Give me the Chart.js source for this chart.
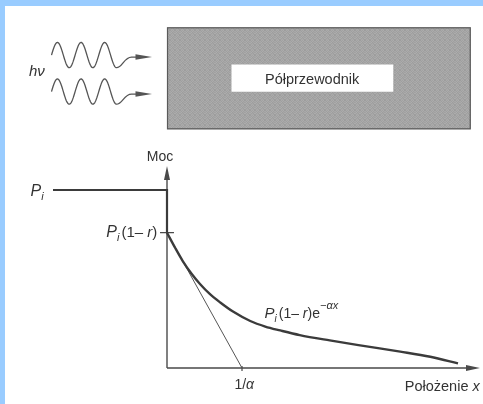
<!DOCTYPE html>
<html>
<head>
<meta charset="utf-8">
<script src="https://cdn.jsdelivr.net/npm/chart.js@4/dist/chart.umd.min.js"></script>
<style>
  html, body { margin: 0; padding: 0; background: #fff; }
  #wrap { position: relative; width: 483px; height: 404px; overflow: hidden; }
  #wrap canvas { position: absolute; left: 0; top: 0; }
  .frame { position: absolute; background: #99ccff; }
</style>
</head>
<body>
<div id="wrap">
  <canvas id="chart" width="483" height="404"></canvas>
  <div class="frame" style="left:0;top:0;width:483px;height:6px"></div>
  <div class="frame" style="left:0;top:0;width:5px;height:404px"></div>
</div>
<script>
// Depth into the semiconductor, in units of the absorption length 1/α
const depth = [0, 0.11, 0.21, 0.33, 0.44, 0.57, 0.71, 0.88, 1.11, 1.31, 1.51, 1.77, 2.17, 2.64, 3.11, 3.51, 3.88];
// Optical power inside the material, in units of the incident power P_i
const power = [0.76, 0.674, 0.601, 0.528, 0.472, 0.416, 0.368, 0.317, 0.264, 0.233, 0.211, 0.185, 0.155, 0.123, 0.092, 0.063, 0.026];

// Incident power outside the sample (x < 0) and the power just inside the surface
const incidentX = [-1.52, 0, 0];
const incidentP = [1.0, 1.0, 0.76];

// Tangent at the surface: crosses zero at x = 1/α
const tangentX = [0, 1];
const tangentP = [0.76, 0];

// Marked values on the axes
const yTickValues = [1.0, 0.76];
const xTickValues = [1];

const INK = '#3b3b3b';
const TEXT = '#333';
const SANS = '"Liberation Sans", Arial, Helvetica, sans-serif';

function pts(xs, ys) { return xs.map((x, i) => ({ x: x, y: ys[i] })); }

// Rich text: runs of plain / italic / sub- and superscript text
function richWidth(ctx, parts) {
  let w = 0;
  parts.forEach(p => { ctx.font = (p.it ? 'italic ' : '') + p.size + 'px ' + SANS; w += ctx.measureText(p.t).width + (p.gap || 0); });
  return w;
}
function drawRich(ctx, x, y, parts, align) {
  const w = richWidth(ctx, parts);
  let cx = align === 'right' ? x - w : align === 'center' ? x - w / 2 : x;
  ctx.textAlign = 'left';
  ctx.textBaseline = 'alphabetic';
  ctx.fillStyle = TEXT;
  parts.forEach(p => {
    ctx.font = (p.it ? 'italic ' : '') + p.size + 'px ' + SANS;
    ctx.fillText(p.t, cx, y + (p.dy || 0));
    cx += ctx.measureText(p.t).width + (p.gap || 0);
  });
}

// Labels, anchored in data units
const labels = [
  { x: -1.82, y: 0.966, align: 'left', parts: [{ t: 'P', it: 1, size: 16 }, { t: 'i', it: 1, size: 11, dy: 4 }] },
  { x: -0.13, y: 0.735, align: 'right', parts: [{ t: 'P', it: 1, size: 16 }, { t: 'i', it: 1, size: 11, dy: 4, gap: 2 }, { t: '(1\u2013 ', size: 15 }, { t: 'r', it: 1, size: 15 }, { t: ')', size: 15 }] },
  { x: 1.30, y: 0.283, align: 'left', parts: [{ t: 'P', it: 1, size: 15 }, { t: 'i', it: 1, size: 10, dy: 4, gap: 2 }, { t: '(1\u2013 ', size: 14 }, { t: 'r', it: 1, size: 14 }, { t: ')e', size: 14 }, { t: '\u2212\u03b1x', it: 1, size: 11, dy: -9 }] },
  { x: -0.093, y: 1.165, align: 'center', parts: [{ t: 'Moc', size: 14 }] },
  { x: 1.03, y: -0.118, align: 'center', parts: [{ t: '1/', size: 14 }, { t: '\u03b1', it: 1, size: 14 }] },
  { x: 4.17, y: -0.13, align: 'right', parts: [{ t: 'Po\u0142o\u017cenie ', size: 14.5 }, { t: 'x', it: 1, size: 14.5 }] },
  { x: -1.84, y: 1.64, align: 'left', parts: [{ t: 'h\u03bd', it: 1, size: 15 }] },
  { x: 1.935, y: 1.598, align: 'center', parts: [{ t: 'P\u00f3\u0142przewodnik', size: 14.5 }] }
];

// Fine halftone-like grey fill for the semiconductor block
function greyPattern(ctx) {
  const c = document.createElement('canvas');
  c.width = 5; c.height = 5;
  const g = c.getContext('2d');
  const shades = [0x9e, 0xaa, 0xa2, 0xad, 0x9c,
                  0xa9, 0x9f, 0xac, 0xa0, 0xa7,
                  0xa3, 0xae, 0x9d, 0xa8, 0xa1,
                  0xab, 0xa0, 0xa6, 0x9e, 0xad,
                  0x9f, 0xa8, 0xaa, 0xa4, 0x9d];
  shades.forEach((s, i) => { g.fillStyle = 'rgb(' + s + ',' + s + ',' + s + ')'; g.fillRect(i % 5, Math.floor(i / 5), 1, 1); });
  return ctx.createPattern(c, 'repeat');
}

function arrowHead(ctx, tipX, tipY, dx, dy, len, half) {
  const nx = -dy, ny = dx;
  ctx.beginPath();
  ctx.moveTo(tipX, tipY);
  ctx.lineTo(tipX - dx * len + nx * half, tipY - dy * len + ny * half);
  ctx.lineTo(tipX - dx * len - nx * half, tipY - dy * len - ny * half);
  ctx.closePath();
  ctx.fill();
}

// Incoming photon wave drawn in data units
function drawWave(ctx, X, Y, w) {
  ctx.beginPath();
  const n = 120;
  let endX, endY;
  for (let i = 0; i <= n; i++) {
    const u = w.x0 + (w.periods * w.period) * i / n;
    const v = w.c + w.amp * Math.sin(2 * Math.PI * (u - w.x0) / w.period);
    if (i === 0) ctx.moveTo(X(u), Y(v)); else ctx.lineTo(X(u), Y(v));
    endX = u; endY = v;
  }
  ctx.bezierCurveTo(X(endX + 0.08), Y(endY), X(endX + 0.1), Y(w.ay), X(endX + 0.2), Y(w.ay));
  ctx.lineTo(X(w.tip - 0.15), Y(w.ay));
  ctx.stroke();
  arrowHead(ctx, X(w.tip), Y(w.ay), 1, 0, X(w.tip) - X(w.tip - 0.22), 2.8);
}

const waves = [
  { x0: -1.54, period: 0.315, periods: 2.75, c: 1.758, amp: 0.071, ay: 1.747, tip: -0.2 },
  { x0: -1.54, period: 0.315, periods: 2.75, c: 1.553, amp: 0.071, ay: 1.539, tip: -0.2 }
];

const figurePlugin = {
  id: 'figure',
  beforeDatasetsDraw(chart) {
    const ctx = chart.ctx;
    const X = v => chart.scales.x.getPixelForValue(v);
    const Y = v => chart.scales.y.getPixelForValue(v);
    ctx.save();

    // Semiconductor block
    ctx.fillStyle = greyPattern(ctx);
    const bx0 = X(0), bx1 = X(4.05), by0 = Y(1.914), by1 = Y(1.341);
    ctx.fillRect(bx0, by0, bx1 - bx0, by1 - by0);
    ctx.strokeStyle = '#5a5a5a';
    ctx.lineWidth = 1.2;
    ctx.strokeRect(bx0 + 0.5, by0 + 0.5, bx1 - bx0 - 1, by1 - by0 - 1);
    ctx.fillStyle = '#fff';
    const lx0 = X(0.86), lx1 = X(3.017), ly0 = Y(1.705), ly1 = Y(1.552);
    ctx.fillRect(lx0, ly0, lx1 - lx0, ly1 - ly0);

    // Photon waves
    ctx.strokeStyle = '#555';
    ctx.fillStyle = '#555';
    ctx.lineWidth = 1.3;
    ctx.lineJoin = 'round';
    waves.forEach(w => drawWave(ctx, X, Y, w));

    // Axes with arrowheads
    ctx.strokeStyle = '#4a4a4a';
    ctx.fillStyle = '#4a4a4a';
    ctx.lineWidth = 1.4;
    ctx.beginPath();
    ctx.moveTo(X(0), Y(0));
    ctx.lineTo(X(0), Y(1.08));
    ctx.moveTo(X(0), Y(0));
    ctx.lineTo(X(4.0), Y(0));
    ctx.stroke();
    arrowHead(ctx, X(0), Y(1.135), 0, -1, 14, 3);
    arrowHead(ctx, X(4.173), Y(0), 1, 0, 14, 3);

    // Tick marks
    ctx.lineWidth = 1.2;
    ctx.beginPath();
    ctx.moveTo(X(-0.093), Y(yTickValues[1]));
    ctx.lineTo(X(0.093), Y(yTickValues[1]));
    xTickValues.forEach(v => { ctx.moveTo(X(v), Y(0) - 2); ctx.lineTo(X(v), Y(0) + 3); });
    ctx.stroke();
    ctx.restore();
  },
  afterDraw(chart) {
    const ctx = chart.ctx;
    const X = v => chart.scales.x.getPixelForValue(v);
    const Y = v => chart.scales.y.getPixelForValue(v);
    ctx.save();
    labels.forEach(l => drawRich(ctx, X(l.x), Y(l.y), l.parts, l.align));
    ctx.restore();
  }
};

new Chart(document.getElementById('chart'), {
  type: 'line',
  data: {
    datasets: [
      { data: pts(incidentX, incidentP), borderColor: INK, borderWidth: 2.2, pointRadius: 0, tension: 0, borderJoinStyle: 'miter' },
      { data: pts(depth, power), borderColor: INK, borderWidth: 2.4, pointRadius: 0, cubicInterpolationMode: 'monotone' },
      { data: pts(tangentX, tangentP), borderColor: '#555', borderWidth: 1, pointRadius: 0, tension: 0 }
    ]
  },
  options: {
    responsive: false,
    animation: false,
    events: [],
    layout: { padding: 0 },
    plugins: { legend: { display: false }, tooltip: { enabled: false }, title: { display: false } },
    scales: {
      x: { type: 'linear', min: -2.2267, max: 4.2133, display: false },
      y: { type: 'linear', min: -0.2022, max: 2.0674, display: false }
    }
  },
  plugins: [figurePlugin]
});
</script>
</body>
</html>
